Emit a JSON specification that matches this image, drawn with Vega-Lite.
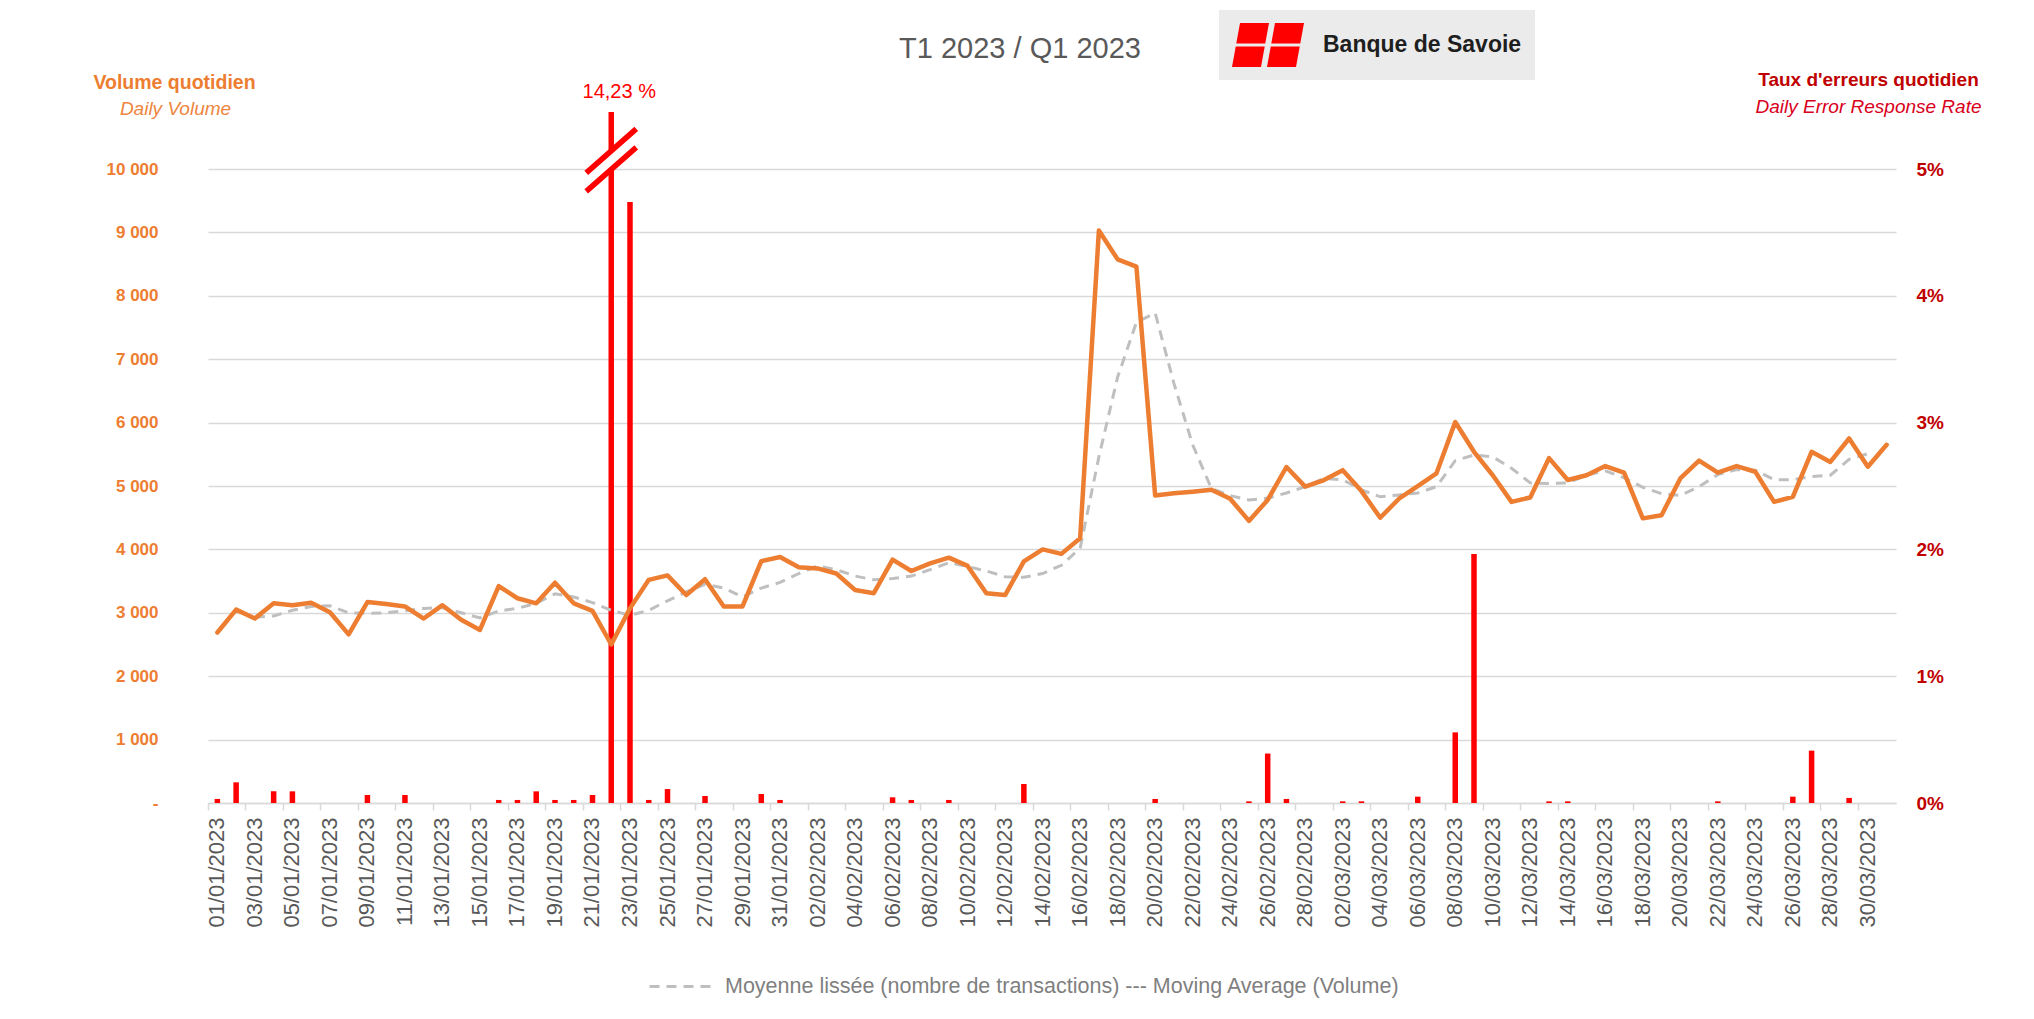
{
  "$schema": "https://vega.github.io/schema/vega-lite/v6.json",
  "width": 1688,
  "height": 691,
  "autosize": {"type": "none"},
  "padding": {"left": 208, "top": 112, "right": 138, "bottom": 216},
  "background": "white",
  "config": {"view": {"stroke": null}},
  "title": {"text": "T1 2023 / Q1 2023", "anchor": "middle", "frame": "group", "font": "Liberation Sans, sans-serif", "fontSize": 29, "fontWeight": "normal", "color": "#595959", "baseline": "alphabetic", "offset": 0, "dx": -32, "dy": 77},
  "data": {"values": [
    {"date":"2023-01-01","vol":2690,"ma":null,"rate":0.00032},
    {"date":"2023-01-02","vol":3050,"ma":null,"rate":0.00163},
    {"date":"2023-01-03","vol":2910,"ma":2930,"rate":0},
    {"date":"2023-01-04","vol":3150,"ma":2950,"rate":0.00092},
    {"date":"2023-01-05","vol":3120,"ma":3040,"rate":0.00092},
    {"date":"2023-01-06","vol":3160,"ma":3100,"rate":0},
    {"date":"2023-01-07","vol":3010,"ma":3110,"rate":0},
    {"date":"2023-01-08","vol":2660,"ma":3000,"rate":0},
    {"date":"2023-01-09","vol":3170,"ma":2990,"rate":0.00063},
    {"date":"2023-01-10","vol":3140,"ma":3000,"rate":0},
    {"date":"2023-01-11","vol":3100,"ma":3030,"rate":0.00063},
    {"date":"2023-01-12","vol":2910,"ma":3070,"rate":0},
    {"date":"2023-01-13","vol":3120,"ma":3080,"rate":0},
    {"date":"2023-01-14","vol":2890,"ma":3000,"rate":0},
    {"date":"2023-01-15","vol":2730,"ma":2920,"rate":0},
    {"date":"2023-01-16","vol":3420,"ma":3030,"rate":0.00024},
    {"date":"2023-01-17","vol":3230,"ma":3070,"rate":0.00024},
    {"date":"2023-01-18","vol":3150,"ma":3150,"rate":0.00092},
    {"date":"2023-01-19","vol":3475,"ma":3300,"rate":0.00024},
    {"date":"2023-01-20","vol":3150,"ma":3250,"rate":0.00024},
    {"date":"2023-01-21","vol":3030,"ma":3160,"rate":0.00063},
    {"date":"2023-01-22","vol":2500,"ma":3040,"rate":0.1423},
    {"date":"2023-01-23","vol":3070,"ma":2960,"rate":0.0474},
    {"date":"2023-01-24","vol":3520,"ma":3040,"rate":0.00024},
    {"date":"2023-01-25","vol":3590,"ma":3190,"rate":0.0011},
    {"date":"2023-01-26","vol":3280,"ma":3330,"rate":0},
    {"date":"2023-01-27","vol":3530,"ma":3450,"rate":0.00055},
    {"date":"2023-01-28","vol":3100,"ma":3390,"rate":0},
    {"date":"2023-01-29","vol":3100,"ma":3250,"rate":0},
    {"date":"2023-01-30","vol":3815,"ma":3390,"rate":0.00071},
    {"date":"2023-01-31","vol":3880,"ma":3480,"rate":0.00024},
    {"date":"2023-02-01","vol":3720,"ma":3620,"rate":0},
    {"date":"2023-02-02","vol":3700,"ma":3740,"rate":0},
    {"date":"2023-02-03","vol":3620,"ma":3680,"rate":0},
    {"date":"2023-02-04","vol":3360,"ma":3580,"rate":0},
    {"date":"2023-02-05","vol":3310,"ma":3520,"rate":0},
    {"date":"2023-02-06","vol":3840,"ma":3540,"rate":0.00045},
    {"date":"2023-02-07","vol":3660,"ma":3580,"rate":0.00024},
    {"date":"2023-02-08","vol":3780,"ma":3680,"rate":0},
    {"date":"2023-02-09","vol":3870,"ma":3790,"rate":0.00024},
    {"date":"2023-02-10","vol":3740,"ma":3730,"rate":0},
    {"date":"2023-02-11","vol":3310,"ma":3660,"rate":0},
    {"date":"2023-02-12","vol":3280,"ma":3570,"rate":0},
    {"date":"2023-02-13","vol":3810,"ma":3560,"rate":0.0015},
    {"date":"2023-02-14","vol":4000,"ma":3620,"rate":0},
    {"date":"2023-02-15","vol":3930,"ma":3750,"rate":0},
    {"date":"2023-02-16","vol":4175,"ma":4020,"rate":0},
    {"date":"2023-02-17","vol":9030,"ma":5460,"rate":0},
    {"date":"2023-02-18","vol":8575,"ma":6720,"rate":0},
    {"date":"2023-02-19","vol":8460,"ma":7580,"rate":0},
    {"date":"2023-02-20","vol":4850,"ma":7730,"rate":0.00032},
    {"date":"2023-02-21","vol":4885,"ma":6620,"rate":0},
    {"date":"2023-02-22","vol":4910,"ma":5650,"rate":0},
    {"date":"2023-02-23","vol":4940,"ma":4960,"rate":0},
    {"date":"2023-02-24","vol":4800,"ma":4850,"rate":0},
    {"date":"2023-02-25","vol":4450,"ma":4780,"rate":0.00013},
    {"date":"2023-02-26","vol":4780,"ma":4810,"rate":0.0039},
    {"date":"2023-02-27","vol":5300,"ma":4890,"rate":0.00032},
    {"date":"2023-02-28","vol":4990,"ma":4990,"rate":0},
    {"date":"2023-03-01","vol":5095,"ma":5120,"rate":0},
    {"date":"2023-03-02","vol":5250,"ma":5100,"rate":0.00013},
    {"date":"2023-03-03","vol":4920,"ma":4940,"rate":0.00013},
    {"date":"2023-03-04","vol":4500,"ma":4830,"rate":0},
    {"date":"2023-03-05","vol":4800,"ma":4860,"rate":0},
    {"date":"2023-03-06","vol":5000,"ma":4890,"rate":0.0005},
    {"date":"2023-03-07","vol":5200,"ma":4990,"rate":0},
    {"date":"2023-03-08","vol":6010,"ma":5400,"rate":0.00557},
    {"date":"2023-03-09","vol":5540,"ma":5490,"rate":0.01964},
    {"date":"2023-03-10","vol":5170,"ma":5460,"rate":0},
    {"date":"2023-03-11","vol":4750,"ma":5280,"rate":0},
    {"date":"2023-03-12","vol":4820,"ma":5050,"rate":0},
    {"date":"2023-03-13","vol":5440,"ma":5040,"rate":0.00013},
    {"date":"2023-03-14","vol":5095,"ma":5050,"rate":0.00013},
    {"date":"2023-03-15","vol":5170,"ma":5170,"rate":0},
    {"date":"2023-03-16","vol":5315,"ma":5240,"rate":0},
    {"date":"2023-03-17","vol":5210,"ma":5130,"rate":0},
    {"date":"2023-03-18","vol":4490,"ma":4980,"rate":0},
    {"date":"2023-03-19","vol":4540,"ma":4880,"rate":0},
    {"date":"2023-03-20","vol":5120,"ma":4850,"rate":0},
    {"date":"2023-03-21","vol":5400,"ma":4990,"rate":0},
    {"date":"2023-03-22","vol":5210,"ma":5180,"rate":0.00013},
    {"date":"2023-03-23","vol":5315,"ma":5260,"rate":0},
    {"date":"2023-03-24","vol":5225,"ma":5250,"rate":0},
    {"date":"2023-03-25","vol":4750,"ma":5100,"rate":0},
    {"date":"2023-03-26","vol":4830,"ma":5100,"rate":0.0005},
    {"date":"2023-03-27","vol":5540,"ma":5150,"rate":0.00413},
    {"date":"2023-03-28","vol":5380,"ma":5170,"rate":0},
    {"date":"2023-03-29","vol":5750,"ma":5420,"rate":0.0004},
    {"date":"2023-03-30","vol":5305,"ma":5510,"rate":0},
    {"date":"2023-03-31","vol":5650,"ma":null,"rate":0}
  ]},
  "encoding": {
    "x": {"field": "date", "type": "ordinal", "scale": {"type": "band", "paddingInner": 0, "paddingOuter": 0},
      "axis": {"title": null, "values": ["2023-01-01","2023-01-03","2023-01-05","2023-01-07","2023-01-09","2023-01-11","2023-01-13","2023-01-15","2023-01-17","2023-01-19","2023-01-21","2023-01-23","2023-01-25","2023-01-27","2023-01-29","2023-01-31","2023-02-02","2023-02-04","2023-02-06","2023-02-08","2023-02-10","2023-02-12","2023-02-14","2023-02-16","2023-02-18","2023-02-20","2023-02-22","2023-02-24","2023-02-26","2023-02-28","2023-03-02","2023-03-04","2023-03-06","2023-03-08","2023-03-10","2023-03-12","2023-03-14","2023-03-16","2023-03-18","2023-03-20","2023-03-22","2023-03-24","2023-03-26","2023-03-28","2023-03-30"],
        "labelExpr": "utcFormat(toDate(datum.value), '%d/%m/%Y')", "labelAngle": -90, "labelFont": "Liberation Sans, sans-serif", "labelFontSize": 22, "labelColor": "#595959", "labelPadding": 7, "labelBound": false, "labelOverlap": false,
        "bandPosition": 0, "tickColor": "#d9d9d9", "tickSize": 7, "tickWidth": 1.5, "domainColor": "#d9d9d9", "domainWidth": 1.5, "grid": false}}
  },
  "layer": [
    {
      "mark": {"type": "bar", "width": 5.5},
      "encoding": {
        "y": {"field": "rate", "type": "quantitative", "scale": {"domain": [0, 0.0545], "nice": false, "clamp": true},
          "axis": {"orient": "right", "values": [0, 0.01, 0.02, 0.03, 0.04, 0.05], "format": ".0%", "labelFont": "Liberation Sans, sans-serif", "labelFontWeight": "bold", "labelFontSize": 19, "labelColor": "#C00000", "labelPadding": 20, "ticks": false, "domain": false, "grid": false,
            "title": "Taux d'erreurs quotidien", "titleFont": "Liberation Sans, sans-serif", "titleFontSize": 19, "titleFontWeight": "bold", "titleColor": "#C00000", "titleAngle": 0, "titleAlign": "center", "titleBaseline": "alphabetic", "titleX": -28, "titleY": -27}},
        "color": {"datum": "Banque de Savoie", "scale": {"range": ["#ff0000"]},
          "legend": {"orient": "none", "legendX": 1011, "legendY": -102, "title": null, "padding": 13, "fillColor": "#ebebeb",
            "symbolType": "M-0.636,-1L0.682,-1L0.512,-0.068L-0.806,-0.068ZM-0.83,0.068L0.488,0.068L0.318,1L-1,1ZM0.955,-1L2.273,-1L2.103,-0.068L0.785,-0.068ZM0.761,0.068L2.079,0.068L1.909,1L0.591,1Z",
            "symbolSize": 1936, "symbolStrokeWidth": 0, "labelOffset": 47, "labelFont": "Liberation Sans, sans-serif", "labelFontWeight": "bold", "labelFontSize": 23, "labelColor": "#1e1e1e", "labelLimit": 0}}
      }
    },
    {
      "layer": [
        {
          "mark": {"type": "line", "color": "#BFBFBF", "strokeWidth": 3},
          "encoding": {
            "y": {"field": "ma", "type": "quantitative", "scale": {"domain": [0, 10900], "nice": false},
              "axis": {"orient": "left", "values": [0,1000,2000,3000,4000,5000,6000,7000,8000,9000,10000], "labelExpr": "datum.value == 0 ? '-' : replace(format(datum.value, ','), ',', ' ')", "labelFont": "Liberation Sans, sans-serif", "labelFontWeight": "bold", "labelFontSize": 17, "labelColor": "#ED7D31", "labelPadding": 50, "ticks": false, "domain": false, "grid": true, "gridColor": "#d9d9d9", "gridWidth": 1.5,
                "title": "Volume quotidien", "titleFont": "Liberation Sans, sans-serif", "titleFontSize": 19.5, "titleFontWeight": "bold", "titleColor": "#ED7D31", "titleAngle": 0, "titleAlign": "center", "titleBaseline": "alphabetic", "titleX": -34, "titleY": -24}},
            "strokeDash": {"datum": "Moyenne lissée (nombre de transactions) --- Moving Average (Volume)", "scale": {"range": [[10, 7]]},
              "legend": {"orient": "none", "legendX": 440, "legendY": 840, "title": null, "padding": 0, "symbolType": "stroke", "symbolStrokeColor": "#BFBFBF", "symbolStrokeWidth": 3, "symbolSize": 4356, "labelOffset": 8, "labelFont": "Liberation Sans, sans-serif", "labelFontSize": 21.5, "labelColor": "#7f7f7f", "labelLimit": 0}}
          }
        },
        {
          "mark": {"type": "line", "color": "#ED7D31", "strokeWidth": 4.5, "strokeJoin": "round", "strokeCap": "round"},
          "encoding": {
            "y": {"field": "vol", "type": "quantitative", "scale": {"domain": [0, 10900], "nice": false},
              "axis": {"orient": "left", "values": [0,1000,2000,3000,4000,5000,6000,7000,8000,9000,10000], "labelExpr": "datum.value == 0 ? '-' : replace(format(datum.value, ','), ',', ' ')", "labelFont": "Liberation Sans, sans-serif", "labelFontWeight": "bold", "labelFontSize": 17, "labelColor": "#ED7D31", "labelPadding": 50, "ticks": false, "domain": false, "grid": true, "gridColor": "#d9d9d9", "gridWidth": 1.5,
                "title": "Volume quotidien", "titleFont": "Liberation Sans, sans-serif", "titleFontSize": 19.5, "titleFontWeight": "bold", "titleColor": "#ED7D31", "titleAngle": 0, "titleAlign": "center", "titleBaseline": "alphabetic", "titleX": -34, "titleY": -24}}
          }
        }
      ]
    },
    {
      "transform": [{"filter": "datum.rate > 0.05"}],
      "encoding": {
        "y": {"datum": 10140, "type": "quantitative", "scale": {"domain": [0, 10900], "nice": false},
          "axis": {"orient": "left", "labels": false, "ticks": false, "domain": false, "grid": false,
            "title": "Daily Volume", "titleFont": "Liberation Sans, sans-serif", "titleFontSize": 19, "titleFontWeight": "normal", "titleFontStyle": "italic", "titleColor": "#EE8540", "titleAngle": 0, "titleAlign": "center", "titleBaseline": "alphabetic", "titleX": -33, "titleY": 2}}
      },
      "layer": [
        {"mark": {"type": "point", "shape": "M-1,0.51L1,-1.25L1,-0.51L-1,1.25Z", "size": 2500, "filled": true, "fill": "white", "strokeWidth": 0, "opacity": 1}},
        {"mark": {"type": "point", "shape": "M-1,0.51L1,-1.25M-1,1.25L1,-0.51", "size": 2500, "filled": false, "stroke": "#ff0000", "strokeWidth": 5.5, "opacity": 1}}
      ]
    },
    {
      "transform": [{"filter": "datum.rate > 0.05"}, {"calculate": "replace(format(datum.rate * 100, '.2f'), '.', ',') + ' %'", "as": "lbl"}],
      "mark": {"type": "text", "color": "#ff0000", "font": "Liberation Sans, sans-serif", "fontSize": 20, "baseline": "bottom", "dy": -10, "dx": 8},
      "encoding": {
        "y": {"datum": 10900, "type": "quantitative", "scale": {"domain": [0, 10900], "nice": false},
          "axis": {"orient": "right", "labels": false, "ticks": false, "domain": false, "grid": false,
            "title": "Daily Error Response Rate", "titleFont": "Liberation Sans, sans-serif", "titleFontSize": 19, "titleFontWeight": "normal", "titleFontStyle": "italic", "titleColor": "#D8001C", "titleAngle": 0, "titleAlign": "center", "titleBaseline": "alphabetic", "titleX": -28, "titleY": 0}},
        "text": {"field": "lbl"}
      }
    }
  ],
  "resolve": {"scale": {"y": "independent"}}
}
